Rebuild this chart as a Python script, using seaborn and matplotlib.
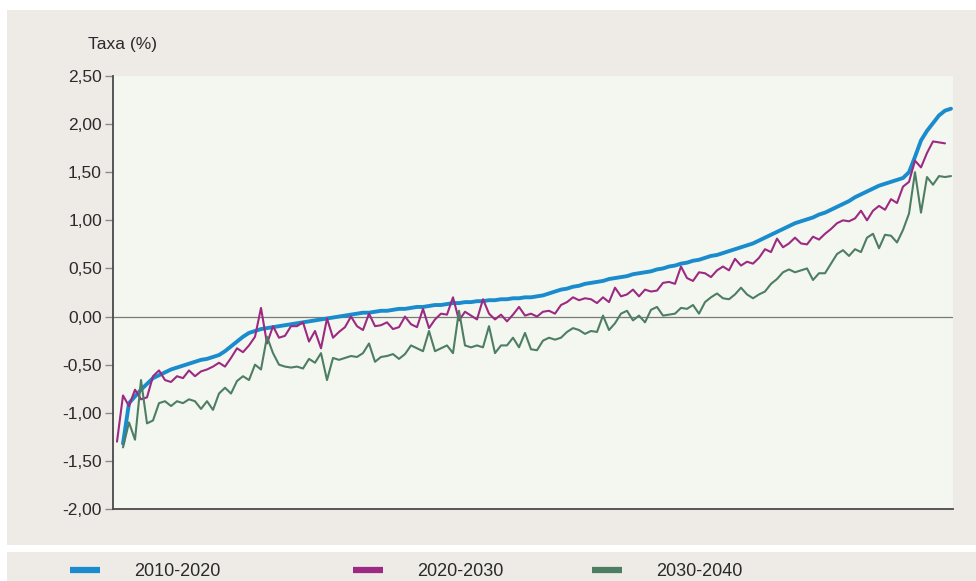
import numpy as np
import pandas as pd
import seaborn as sns
import matplotlib
matplotlib.use("Agg")
import matplotlib.pyplot as plt
from matplotlib.patches import Rectangle
from matplotlib.lines import Line2D

# Annual growth rate (%) per municipality, ordered by the 2010-2020 rate
serie_2010_2020 = [
    np.nan, -1.32, -0.90, -0.83, -0.76, -0.70, -0.64, -0.61, -0.58, -0.55,
    -0.53, -0.51, -0.49, -0.47, -0.45, -0.44, -0.42, -0.40, -0.36, -0.31,
    -0.26, -0.21, -0.17, -0.15, -0.13, -0.12, -0.11, -0.10, -0.09, -0.08,
    -0.07, -0.06, -0.05, -0.04, -0.03, -0.02, -0.01, 0.00, 0.01, 0.02,
    0.03, 0.04, 0.04, 0.05, 0.06, 0.06, 0.07, 0.08, 0.08, 0.09,
    0.10, 0.10, 0.11, 0.12, 0.12, 0.13, 0.14, 0.14, 0.15, 0.15,
    0.16, 0.16, 0.17, 0.17, 0.18, 0.18, 0.19, 0.19, 0.20, 0.20,
    0.21, 0.22, 0.24, 0.26, 0.28, 0.29, 0.31, 0.32, 0.34, 0.35,
    0.36, 0.37, 0.39, 0.40, 0.41, 0.42, 0.44, 0.45, 0.46, 0.47,
    0.49, 0.50, 0.52, 0.53, 0.55, 0.56, 0.58, 0.59, 0.61, 0.63,
    0.64, 0.66, 0.68, 0.70, 0.72, 0.74, 0.76, 0.79, 0.82, 0.85,
    0.88, 0.91, 0.94, 0.97, 0.99, 1.01, 1.03, 1.06, 1.08, 1.11,
    1.14, 1.17, 1.20, 1.24, 1.27, 1.30, 1.33, 1.36, 1.38, 1.40,
    1.42, 1.44, 1.50, 1.66, 1.83, 1.93, 2.01, 2.09, 2.14, 2.16,
]

serie_2020_2030 = [
    -1.30, -0.82, -0.93, -0.76, -0.86, -0.84, -0.62, -0.56, -0.66, -0.68,
    -0.62, -0.64, -0.56, -0.62, -0.57, -0.55, -0.52, -0.48, -0.52, -0.43,
    -0.33, -0.37, -0.30, -0.21, 0.09, -0.28, -0.10, -0.22, -0.20, -0.10,
    -0.10, -0.06, -0.26, -0.15, -0.33, -0.02, -0.22, -0.16, -0.11, 0.00,
    -0.10, -0.14, 0.03, -0.10, -0.09, -0.06, -0.13, -0.11, 0.00, -0.08,
    -0.11, 0.08, -0.12, -0.03, 0.03, 0.02, 0.20, -0.04, 0.05, 0.01,
    -0.03, 0.18, 0.03, -0.03, 0.02, -0.05, 0.02, 0.10, 0.01, 0.03,
    0.00, 0.05, 0.06, 0.03, 0.12, 0.15, 0.20, 0.17, 0.19, 0.18,
    0.14, 0.20, 0.15, 0.30, 0.21, 0.23, 0.28, 0.21, 0.28, 0.26,
    0.27, 0.35, 0.36, 0.34, 0.52, 0.40, 0.37, 0.46, 0.45, 0.41,
    0.48, 0.52, 0.48, 0.60, 0.53, 0.57, 0.55, 0.61, 0.70, 0.67,
    0.81, 0.72, 0.76, 0.82, 0.76, 0.75, 0.83, 0.80, 0.86, 0.91,
    0.97, 1.00, 0.99, 1.02, 1.10, 1.00, 1.10, 1.15, 1.11, 1.22,
    1.18, 1.35, 1.40, 1.62, 1.55, 1.70, 1.82, 1.81, 1.80, np.nan,
]

serie_2030_2040 = [
    np.nan, -1.36, -1.10, -1.28, -0.66, -1.11, -1.08, -0.90, -0.88, -0.93,
    -0.88, -0.90, -0.86, -0.88, -0.96, -0.88, -0.97, -0.80, -0.74, -0.80,
    -0.67, -0.62, -0.66, -0.50, -0.55, -0.21, -0.38, -0.50, -0.52, -0.53,
    -0.52, -0.54, -0.44, -0.48, -0.38, -0.66, -0.43, -0.45, -0.43, -0.41,
    -0.42, -0.38, -0.28, -0.47, -0.42, -0.41, -0.39, -0.44, -0.39, -0.30,
    -0.33, -0.36, -0.15, -0.36, -0.33, -0.30, -0.38, 0.06, -0.30, -0.32,
    -0.30, -0.32, -0.10, -0.38, -0.30, -0.30, -0.22, -0.32, -0.17, -0.34,
    -0.35, -0.25, -0.22, -0.24, -0.22, -0.16, -0.12, -0.14, -0.18, -0.15,
    -0.16, 0.01, -0.14, -0.07, 0.03, 0.06, -0.04, 0.01, -0.06, 0.07,
    0.10, 0.01, 0.02, 0.03, 0.09, 0.08, 0.12, 0.03, 0.15, 0.20,
    0.24, 0.19, 0.18, 0.23, 0.30, 0.23, 0.19, 0.23, 0.26, 0.34,
    0.39, 0.46, 0.49, 0.46, 0.48, 0.50, 0.38, 0.45, 0.45, 0.55,
    0.65, 0.69, 0.63, 0.70, 0.67, 0.82, 0.86, 0.71, 0.85, 0.84,
    0.77, 0.90, 1.07, 1.50, 1.08, 1.45, 1.37, 1.46, 1.45, 1.46,
]

rotulos_y = ["-2,00", "-1,50", "-1,00", "-0,50", "0,00", "0,50", "1,00", "1,50", "2,00", "2,50"]
valores_y = [-2.0, -1.5, -1.0, -0.5, 0.0, 0.5, 1.0, 1.5, 2.0, 2.5]

periodos = ["2010-2020", "2020-2030", "2030-2040"]
cores = ["#1a8ccd", "#9c2a82", "#4d7e63"]
espessuras = [2.8, 1.5, 1.5]

indice = np.arange(len(serie_2010_2020))
dados = pd.DataFrame({
    "municipio": np.tile(indice, 3),
    "taxa": serie_2010_2020 + serie_2020_2030 + serie_2030_2040,
    "periodo": np.repeat(periodos, len(indice)),
})

sns.set_theme(style="white")
plt.rcParams["font.family"] = ["Liberation Sans Narrow", "Liberation Sans", "DejaVu Sans"]

W, H = 976, 581
fig = plt.figure(figsize=(W / 100, H / 100), dpi=100, facecolor="white")

# panel backgrounds (pixel coordinates, origin top-left)
def faixa(x0, y0, x1, y1, cor):
    fig.patches.append(Rectangle((x0 / W, 1 - y1 / H), (x1 - x0) / W, (y1 - y0) / H,
                                 transform=fig.transFigure, facecolor=cor,
                                 edgecolor="none", zorder=-10))

faixa(7, 10, W, 545, "#eeebe7")
faixa(7, 552, W, H, "#eeebe7")

ax = fig.add_axes([113 / W, 1 - 509 / H, 840 / W, 433 / H])
ax.set_facecolor("#f4f7ef")

for periodo, cor, lw in zip(periodos, cores, espessuras):
    sub = dados[dados["periodo"] == periodo]
    sns.lineplot(data=sub, x="municipio", y="taxa", color=cor, linewidth=lw,
                 ax=ax, legend=False, sort=False)

ax.axhline(0, color="#7a7a7a", linewidth=0.9, zorder=0)

ax.set_xlim(-4 / 6, (953 - 117) / 6)
ax.set_ylim(-2.0, 2.5)
ax.set_yticks(valores_y)
ax.set_yticklabels(rotulos_y)
ax.set_xticks([])
ax.set_xlabel("")
ax.set_ylabel("")

for lado in ["top", "right"]:
    ax.spines[lado].set_visible(False)
for lado in ["left", "bottom"]:
    ax.spines[lado].set_color("#4a4a4a")
    ax.spines[lado].set_linewidth(1.3)

ax.tick_params(axis="y", which="both", left=True, length=6, width=1,
               color="#8a8a8a", pad=2, labelsize=12.5, labelcolor="#2a2a2a")

fig.text(88 / W, 1 - 45 / H, "Taxa (%)", fontsize=12.5, color="#2a2a2a",
         ha="left", va="center")

# legend entries spread along the bottom band
posicoes = [70, 353, 592]
for periodo, cor, x0 in zip(periodos, cores, posicoes):
    h = Line2D([], [], color=cor, linewidth=4.5, solid_capstyle="butt")
    fig.legend([h], [periodo], loc="center left",
               bbox_to_anchor=((x0 - 16) / W, 1 - 572 / H),
               frameon=False, fontsize=13, handlelength=1.66,
               handletextpad=1.9, labelcolor="#2a2a2a")

fig.savefig("out.png", dpi=100, facecolor="white")
